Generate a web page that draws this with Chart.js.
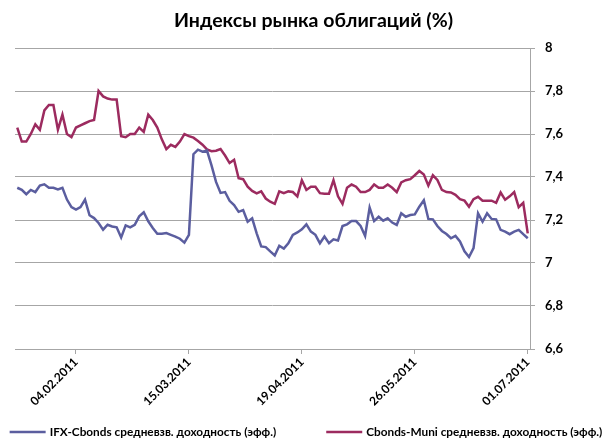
<!DOCTYPE html>
<html>
<head>
<meta charset="utf-8">
<script src="https://cdn.jsdelivr.net/npm/chart.js@4.4.0/dist/chart.umd.min.js"></script>
<style>
  html, body { margin: 0; padding: 0; background: #fff; }
  #wrap { width: 612px; height: 438px; }
</style>
</head>
<body>
<div id="wrap"><canvas id="bondChart" width="612" height="438"></canvas></div>
<script>
// trading days, 18.01.2011 - 01.07.2011
const dates = [
  '18.01.2011','19.01.2011','20.01.2011','21.01.2011',
  '24.01.2011','25.01.2011','26.01.2011','27.01.2011','28.01.2011',
  '31.01.2011','01.02.2011','02.02.2011','03.02.2011','04.02.2011',
  '07.02.2011','08.02.2011','09.02.2011','10.02.2011','11.02.2011',
  '14.02.2011','15.02.2011','16.02.2011','17.02.2011','18.02.2011',
  '21.02.2011','22.02.2011','24.02.2011','25.02.2011',
  '28.02.2011','01.03.2011','02.03.2011','03.03.2011','04.03.2011','05.03.2011',
  '09.03.2011','10.03.2011','11.03.2011',
  '14.03.2011','15.03.2011','16.03.2011','17.03.2011','18.03.2011',
  '21.03.2011','22.03.2011','23.03.2011','24.03.2011','25.03.2011',
  '28.03.2011','29.03.2011','30.03.2011','31.03.2011','01.04.2011',
  '04.04.2011','05.04.2011','06.04.2011','07.04.2011','08.04.2011',
  '11.04.2011','12.04.2011','13.04.2011','14.04.2011','15.04.2011',
  '18.04.2011','19.04.2011','20.04.2011','21.04.2011','22.04.2011',
  '25.04.2011','26.04.2011','27.04.2011','28.04.2011','29.04.2011',
  '03.05.2011','04.05.2011','05.05.2011','06.05.2011',
  '10.05.2011','11.05.2011','12.05.2011','13.05.2011',
  '16.05.2011','17.05.2011','18.05.2011','19.05.2011','20.05.2011',
  '23.05.2011','24.05.2011','25.05.2011','26.05.2011','27.05.2011',
  '30.05.2011','31.05.2011','01.06.2011','02.06.2011','03.06.2011',
  '06.06.2011','07.06.2011','08.06.2011','09.06.2011','10.06.2011',
  '14.06.2011','15.06.2011','16.06.2011','17.06.2011',
  '20.06.2011','21.06.2011','22.06.2011','23.06.2011','24.06.2011',
  '27.06.2011','28.06.2011','29.06.2011','30.06.2011','01.07.2011'
];

const tickLabels = ['04.02.2011', '15.03.2011', '19.04.2011', '26.05.2011', '01.07.2011'];

const ifxCbonds = [
  7.35, 7.34, 7.32, 7.34, 7.33, 7.36, 7.366, 7.35, 7.35, 7.342,
  7.35, 7.295, 7.26, 7.248, 7.26, 7.295, 7.222, 7.209, 7.186, 7.155,
  7.178, 7.17, 7.166, 7.119, 7.175, 7.166, 7.178, 7.217, 7.236, 7.194,
  7.163, 7.136, 7.136, 7.139, 7.131, 7.123, 7.113, 7.095, 7.131, 7.506,
  7.527, 7.518, 7.523, 7.454, 7.377, 7.326, 7.33, 7.289, 7.269, 7.238,
  7.246, 7.192, 7.208, 7.138, 7.077, 7.074, 7.054, 7.035, 7.08, 7.067,
  7.092, 7.131, 7.142, 7.157, 7.18, 7.146, 7.131, 7.092, 7.123, 7.092,
  7.11, 7.105, 7.172, 7.18, 7.195, 7.195, 7.172, 7.126, 7.258, 7.195,
  7.215, 7.197, 7.208, 7.188, 7.177, 7.231, 7.215, 7.223, 7.226, 7.262,
  7.292, 7.205, 7.203, 7.172, 7.149, 7.135, 7.115, 7.126, 7.1, 7.054,
  7.028, 7.069, 7.231, 7.192, 7.231, 7.205, 7.203, 7.154, 7.146, 7.134,
  7.146, 7.154, 7.134, 7.115
];

const cbondsMuni = [
  7.63, 7.565, 7.565, 7.60, 7.645, 7.62, 7.71, 7.735, 7.735, 7.62,
  7.69, 7.60, 7.585, 7.63, 7.64, 7.65, 7.66, 7.665, 7.80, 7.775,
  7.765, 7.76, 7.76, 7.59, 7.585, 7.60, 7.60, 7.63, 7.61, 7.69,
  7.665, 7.63, 7.575, 7.53, 7.55, 7.54, 7.565, 7.60, 7.59, 7.583,
  7.567, 7.55, 7.528, 7.52, 7.522, 7.53, 7.50, 7.465, 7.48, 7.394,
  7.39, 7.355, 7.335, 7.324, 7.333, 7.30, 7.285, 7.275, 7.333, 7.325,
  7.333, 7.33, 7.31, 7.385, 7.34, 7.355, 7.355, 7.325, 7.322, 7.322,
  7.385, 7.31, 7.275, 7.35, 7.365, 7.355, 7.33, 7.33, 7.34, 7.365,
  7.35, 7.35, 7.365, 7.35, 7.33, 7.375, 7.385, 7.39, 7.408, 7.428,
  7.412, 7.36, 7.408, 7.386, 7.34, 7.33, 7.328, 7.317, 7.297, 7.29,
  7.262, 7.297, 7.308, 7.29, 7.29, 7.29, 7.28, 7.328, 7.294, 7.31,
  7.33, 7.26, 7.28, 7.138
];

const seriesNames = [
  'IFX-Cbonds средневзв. доходность (эфф.)',
  'Cbonds-Muni средневзв. доходность (эфф.)'
];
const seriesColors = ['#5b5e9f', '#9c2b5f'];

const FONT = 'Lato, "Open Sans", sans-serif';
const gridColor = '#a6a6a6';

// legend drawn by hand: line sample + bold label, one row at the bottom
const bottomLegend = {
  id: 'bottomLegend',
  afterDraw(chart) {
    const ctx = chart.ctx;
    const sets = chart.data.datasets;
    const lineW = 36, textGap = 4, itemGap = 50, y = 432;
    ctx.save();
    ctx.font = 'bold 11.8px ' + FONT;
    ctx.textBaseline = 'middle';
    let total = 0;
    sets.forEach((ds, i) => {
      total += lineW + textGap + ctx.measureText(ds.label).width + (i ? itemGap : 0);
    });
    let x = (chart.width - total) / 2;
    sets.forEach((ds) => {
      ctx.strokeStyle = ds.borderColor;
      ctx.lineWidth = 2.5;
      ctx.beginPath();
      ctx.moveTo(x, y);
      ctx.lineTo(x + lineW, y);
      ctx.stroke();
      x += lineW + textGap;
      ctx.fillStyle = '#000';
      ctx.fillText(ds.label, x, y);
      x += ctx.measureText(ds.label).width + itemGap;
    });
    ctx.restore();
  }
};

const ctx = document.getElementById('bondChart').getContext('2d');
const bondChart = new Chart(ctx, {
  type: 'line',
  data: {
    labels: dates,
    datasets: [
      {
        label: seriesNames[0],
        data: ifxCbonds,
        borderColor: seriesColors[0],
        backgroundColor: seriesColors[0],
        borderWidth: 2.5,
        pointRadius: 0,
        tension: 0
      },
      {
        label: seriesNames[1],
        data: cbondsMuni,
        borderColor: seriesColors[1],
        backgroundColor: seriesColors[1],
        borderWidth: 2.5,
        pointRadius: 0,
        tension: 0
      }
    ]
  },
  options: {
    responsive: false,
    animation: false,
    layout: { padding: { left: 15, right: 0, top: 0, bottom: 0 } },
    plugins: {
      legend: { display: false },
      tooltip: { enabled: false },
      title: {
        display: true,
        text: 'Индексы рынка облигаций (%)',
        color: '#000',
        font: { family: FONT, size: 19.5, weight: 'bold' },
        padding: { top: 9, bottom: 15.6 }
      }
    },
    scales: {
      x: {
        offset: true,
        grid: { drawOnChartArea: false, color: gridColor, tickLength: 5 },
        border: { display: true, color: gridColor },
        ticks: {
          autoSkip: false,
          minRotation: 45,
          maxRotation: 45,
          padding: 1,
          color: '#000',
          font: { family: FONT, size: 12, weight: 'bold' },
          callback: function (value) {
            const lbl = this.getLabelForValue(value);
            return tickLabels.includes(lbl) ? lbl : null;
          }
        },
        afterFit: (scale) => { scale.height = 89; }
      },
      y: {
        position: 'right',
        min: 6.6,
        max: 8,
        grid: { color: gridColor, tickLength: 5 },
        border: { display: true, color: gridColor },
        ticks: {
          stepSize: 0.2,
          padding: 10,
          color: '#000',
          font: { family: FONT, size: 13, weight: 'bold' },
          callback: (v) => String(Number(v.toFixed(1))).replace('.', ',')
        },
        afterFit: (scale) => { scale.width = 82; }
      }
    }
  },
  plugins: [bottomLegend]
});
</script>
</body>
</html>
